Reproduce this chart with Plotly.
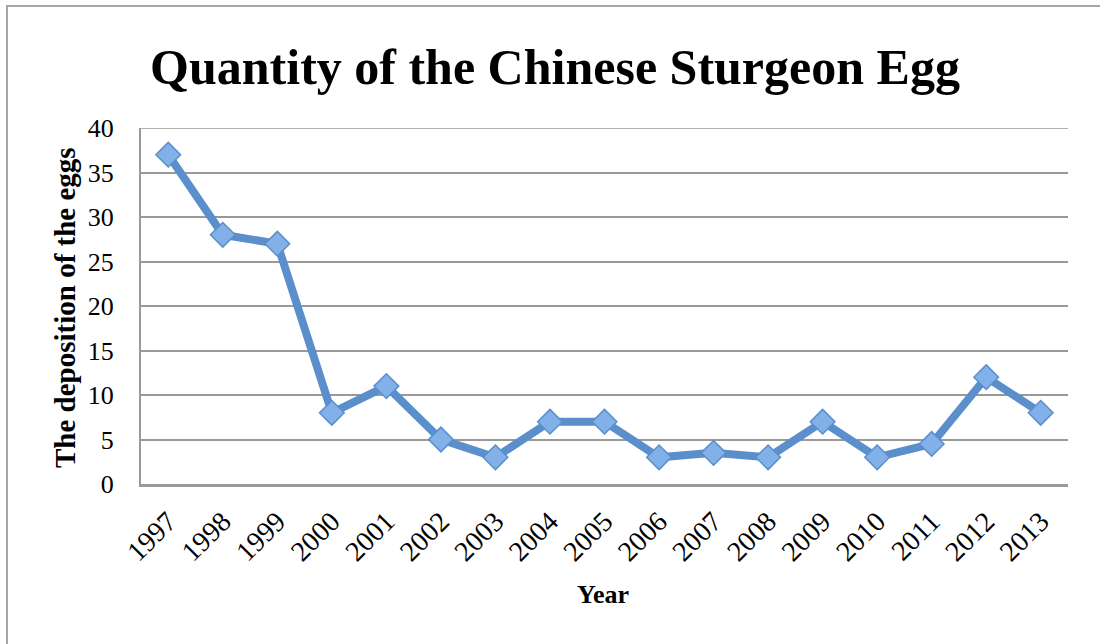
import plotly.graph_objects as go

years = ["1997", "1998", "1999", "2000", "2001", "2002", "2003", "2004", "2005",
         "2006", "2007", "2008", "2009", "2010", "2011", "2012", "2013"]
eggs = [37, 28, 27, 8, 11, 5, 3, 7, 7, 3, 3.5, 3, 7, 3, 4.5, 12, 8]
y_ticks = [0, 5, 10, 15, 20, 25, 30, 35, 40]

SERIF = "Liberation Serif"

L, R, T, B = 141, 32, 128, 160
PW, PH = 1100 - L - R, 644 - T - B

fig = go.Figure()
fig.add_trace(go.Scatter(
    x=years, y=eggs, mode="lines+markers",
    line=dict(color="#5A8FCC", width=8),
    marker=dict(symbol="diamond", size=19, color="#82B0E8",
                line=dict(color="#5A8FCC", width=1.5)),
    showlegend=False,
))

fig.update_layout(
    width=1100, height=644,
    margin=dict(l=L, r=R, t=T, b=B),
    paper_bgcolor="white", plot_bgcolor="white",
    title=dict(text="<b>Quantity of the Chinese Sturgeon Egg</b>",
               font=dict(family=SERIF, size=50, color="black"),
               x=555 / 1100, xanchor="center", y=1 - 66 / 644, yanchor="middle"),
    xaxis=dict(type="category", range=[-0.5, 16.5], tickangle=-45,
               tickfont=dict(family=SERIF, size=28, color="black"),
               ticklabelstandoff=7,
               showline=True, linecolor="#999999", linewidth=2.5,
               showgrid=False, ticks=""),
    yaxis=dict(range=[y_ticks[0], y_ticks[-1]], tickvals=y_ticks,
               tickfont=dict(family=SERIF, size=26, color="black"),
               ticklabelstandoff=20,
               showline=True, linecolor="#999999", linewidth=2,
               gridcolor="#999999", gridwidth=1.5, zeroline=False, ticks=""),
    annotations=[
        dict(text="<b>The deposition of the eggs</b>", textangle=-90,
             xref="paper", yref="paper", x=(65 - L) / PW, y=(T + PH - 308) / PH,
             xanchor="center", yanchor="middle", showarrow=False,
             font=dict(family=SERIF, size=29, color="black")),
        dict(text="<b>Year</b>",
             xref="paper", yref="paper", x=(603 - L) / PW, y=(T + PH - 594) / PH,
             xanchor="center", yanchor="middle", showarrow=False,
             font=dict(family=SERIF, size=26, color="black")),
    ],
    shapes=[
        dict(type="rect", xref="paper", yref="paper",
             x0=(7 - L) / PW, x1=1.2, y0=-1, y1=1 + (T - 6) / PH,
             line=dict(color="#A6A6A6", width=2), layer="below"),
        dict(type="line", xref="paper", yref="y", x0=0, x1=1,
             y0=y_ticks[-1], y1=y_ticks[-1],
             line=dict(color="#999999", width=1.5), layer="below"),
    ],
)

fig.write_html("out.html", config={"displayModeBar": False},
               post_script="document.body.style.margin='0';")
